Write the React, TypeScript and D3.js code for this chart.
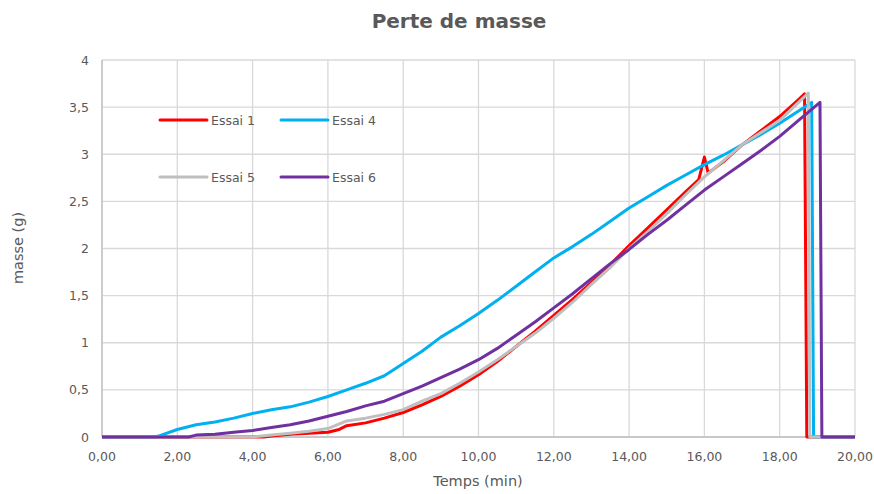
import React from "react";
import * as d3 from "d3";

const W = 874;
const H = 494;

const title = "Perte de masse";
const xLabel = "Temps (min)";
const yLabel = "masse (g)";

const xTicks = [0, 2, 4, 6, 8, 10, 12, 14, 16, 18, 20];
const yTicks = [0, 0.5, 1, 1.5, 2, 2.5, 3, 3.5, 4];

const seriesNames = ["Essai 1", "Essai 4", "Essai 5", "Essai 6"];
const seriesColors = ["#FF0000", "#00B0F0", "#BFBFBF", "#7030A0"];

const t1 = [0, 4.3, 4.5, 5.0, 5.5, 6.0, 6.3, 6.5, 7.0, 7.5, 8.0, 8.5, 9.0, 9.5, 10.0, 10.5, 11.0, 11.5, 12.0, 12.5, 13.0, 13.5, 14.0, 14.5, 15.0, 15.5, 15.85, 16.0, 16.1, 16.5, 17.0, 17.5, 18.0, 18.5, 18.66, 18.72, 20];
const v1 = [0, 0, 0.01, 0.03, 0.04, 0.05, 0.08, 0.12, 0.15, 0.2, 0.26, 0.34, 0.43, 0.54, 0.66, 0.8, 0.96, 1.12, 1.29, 1.46, 1.64, 1.83, 2.03, 2.22, 2.41, 2.6, 2.73, 2.97, 2.8, 2.92, 3.1, 3.25, 3.4, 3.58, 3.64, 0, 0];

const t4 = [0, 1.4, 1.5, 2.0, 2.5, 3.0, 3.5, 4.0, 4.5, 5.0, 5.5, 6.0, 6.5, 7.0, 7.5, 8.0, 8.5, 9.0, 9.5, 10.0, 10.5, 11.0, 11.5, 12.0, 12.5, 13.0, 13.5, 14.0, 14.5, 15.0, 15.5, 16.0, 16.5, 17.0, 17.5, 18.0, 18.5, 18.85, 18.9, 20];
const v4 = [0, 0, 0.01, 0.08, 0.13, 0.16, 0.2, 0.25, 0.29, 0.32, 0.37, 0.43, 0.5, 0.57, 0.65, 0.78, 0.91, 1.06, 1.18, 1.31, 1.45, 1.6, 1.75, 1.9, 2.02, 2.15, 2.29, 2.43, 2.55, 2.67, 2.78, 2.89, 2.99, 3.1, 3.21, 3.33, 3.46, 3.55, 0, 0];

const t5 = [0, 4.0, 4.5, 5.0, 5.5, 6.0, 6.5, 7.0, 7.5, 8.0, 8.5, 9.0, 9.5, 10.0, 10.5, 11.0, 11.5, 12.0, 12.5, 13.0, 13.5, 14.0, 14.5, 15.0, 15.5, 16.0, 16.5, 17.0, 17.5, 18.0, 18.5, 18.76, 18.8, 20];
const v5 = [0, 0, 0.02, 0.04, 0.06, 0.09, 0.17, 0.2, 0.24, 0.29, 0.38, 0.46, 0.57, 0.69, 0.82, 0.96, 1.1, 1.26, 1.43, 1.62, 1.8, 2.0, 2.18, 2.37, 2.57, 2.76, 2.93, 3.1, 3.23, 3.36, 3.55, 3.65, 0, 0];

const t6 = [0, 2.3, 2.5, 3.0, 3.5, 4.0, 4.5, 5.0, 5.5, 6.0, 6.5, 7.0, 7.5, 8.0, 8.5, 9.0, 9.5, 10.0, 10.5, 11.0, 11.5, 12.0, 12.5, 13.0, 13.5, 14.0, 14.5, 15.0, 15.5, 16.0, 16.5, 17.0, 17.5, 18.0, 18.5, 19.07, 19.12, 20];
const v6 = [0, 0, 0.02, 0.03, 0.05, 0.07, 0.1, 0.13, 0.17, 0.22, 0.27, 0.33, 0.38, 0.46, 0.54, 0.63, 0.72, 0.82, 0.94, 1.08, 1.22, 1.37, 1.52, 1.68, 1.84, 1.99, 2.15, 2.3, 2.46, 2.62, 2.76, 2.9, 3.04, 3.19, 3.36, 3.55, 0, 0];

const seriesT = [t1, t4, t5, t6];
const seriesV = [v1, v4, v5, v6];

const FONT = "'DejaVu Sans', sans-serif";
const TEXT = "#595959";

export default function App() {
  const left = 102, right = 855, top = 60, bottom = 437;
  const x = d3.scaleLinear().domain([0, 20]).range([left, right]);
  const y = d3.scaleLinear().domain([0, 4]).range([bottom, top]);
  const line = d3
    .line<[number, number]>()
    .x((d) => x(d[0]))
    .y((d) => y(d[1]));

  const fmtX = (v: number) => v.toFixed(2).replace(".", ",");
  const fmtY = (v: number) => String(v).replace(".", ",");

  const legendPos = [
    [160, 120],
    [281, 120],
    [160, 177],
    [281, 177],
  ];

  return (
    <svg width={W} height={H} style={{ display: "block", position: "absolute", left: 0, top: 0 }} fontFamily={FONT}>
      <rect width={W} height={H} fill="#fff" />
      <text x={459} y={28} textAnchor="middle" fontSize={20} fontWeight="bold" fill={TEXT}>
        {title}
      </text>
      {yTicks.map((v) => (
        <line key={"gy" + v} x1={left} x2={right} y1={y(v)} y2={y(v)} stroke="#D9D9D9" strokeWidth={1.3} />
      ))}
      {xTicks.map((v) => (
        <line key={"gx" + v} x1={x(v)} x2={x(v)} y1={top} y2={bottom} stroke="#D9D9D9" strokeWidth={1.3} />
      ))}
      <line x1={left} x2={left} y1={top} y2={bottom} stroke="#BFBFBF" strokeWidth={1.3} />
      <line x1={left} x2={right} y1={bottom} y2={bottom} stroke="#BFBFBF" strokeWidth={1.3} />
      {yTicks.map((v) => (
        <text key={"ty" + v} x={89} y={y(v) + 4.5} textAnchor="end" fontSize={12.5} fill={TEXT}>
          {fmtY(v)}
        </text>
      ))}
      {xTicks.map((v) => (
        <text key={"tx" + v} x={x(v)} y={461} textAnchor="middle" fontSize={12.5} fill={TEXT}>
          {fmtX(v)}
        </text>
      ))}
      <text x={478} y={486} textAnchor="middle" fontSize={14.5} fill={TEXT}>
        {xLabel}
      </text>
      <text transform={`translate(23,248) rotate(-90)`} textAnchor="middle" fontSize={14.5} fill={TEXT}>
        {yLabel}
      </text>
      {seriesT.map((ts, i) => (
        <path
          key={"s" + i}
          d={line(ts.map((t, j) => [t, seriesV[i][j]]) as [number, number][]) || ""}
          fill="none"
          stroke={seriesColors[i]}
          strokeWidth={3}
          strokeLinejoin="round"
        />
      ))}
      {seriesNames.map((n, i) => (
        <g key={"l" + i}>
          <line
            x1={legendPos[i][0]}
            x2={legendPos[i][0] + 47}
            y1={legendPos[i][1]}
            y2={legendPos[i][1]}
            stroke={seriesColors[i]}
            strokeWidth={3}
            strokeLinecap="round"
          />
          <text x={legendPos[i][0] + 51} y={legendPos[i][1] + 4.5} fontSize={12.5} fill={TEXT}>
            {n}
          </text>
        </g>
      ))}
    </svg>
  );
}
